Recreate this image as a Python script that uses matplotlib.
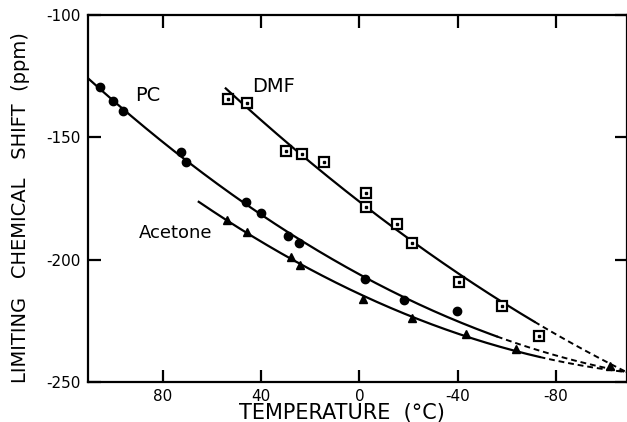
import numpy as np
import matplotlib
matplotlib.use("Agg")
from matplotlib import pyplot as plt

plt.rcParams['font.family'] = ['DejaVu Sans']

# values (temperature in degC, shift in ppm)
pc_temp = [105.6, 100.3, 96.3, 72.7, 70.6, 46.2, 40.1, 29.1, 24.7, -2.2, -18.0, -39.6]
pc_shift = [-129.4, -135.2, -139.2, -156.0, -160.1, -176.5, -181.0, -190.4, -193.2, -207.9, -216.5, -221.0]

acetone_temp = [54.0, 45.8, 27.9, 24.3, -1.4, -21.3, -43.3, -63.6, -101.9]
acetone_shift = [-183.8, -188.7, -198.9, -202.2, -216.1, -223.9, -230.4, -236.5, -243.5]

dmf_temp = [53.6, 45.8, 30.0, 23.4, 14.5, -2.6, -2.6, -15.2, -21.3, -40.4, -57.9, -73.0]
dmf_shift = [-134.3, -136.0, -155.6, -156.8, -160.1, -172.8, -178.5, -185.4, -193.2, -209.2, -219.0, -231.2]

# common point where the extrapolated curves meet
meet_temp = -109.0
meet_shift = -246.0

# where each fitted curve starts and where its solid part stops
pc_range = [110.5, -56.0]
acetone_range = [65.4, -73.4]
dmf_range = [54.4, -71.3]


def fitted(temp, shift, rng):
    t = np.append(temp, meet_temp)
    s = np.append(shift, meet_shift)
    w = np.ones(len(t))
    w[-1] = 10
    coef = np.polyfit(t, s, 2, w=w)
    t1 = np.linspace(rng[0], rng[1], 200)
    t2 = np.linspace(rng[1], meet_temp, 80)
    return t1, np.polyval(coef, t1), t2, np.polyval(coef, t2)


fig = plt.figure(figsize=(6.27, 4.22), dpi=100)
ax = fig.add_axes([88 / 627, 40 / 422, 539 / 627, 367 / 422])

for temp, shift, rng in [(pc_temp, pc_shift, pc_range),
                         (acetone_temp, acetone_shift, acetone_range),
                         (dmf_temp, dmf_shift, dmf_range)]:
    t1, s1, t2, s2 = fitted(temp, shift, rng)
    ax.plot(t1, s1, color='black', lw=1.6)
    ax.plot(t2, s2, color='black', lw=1.4, dashes=(3, 2))

ax.plot(pc_temp, pc_shift, 'o', color='black', ms=6)
ax.plot(acetone_temp, acetone_shift, '^', color='black', ms=6)
ax.plot(dmf_temp, dmf_shift, 's', mfc='white', mec='black', mew=1.6, ms=7)
ax.plot(dmf_temp, dmf_shift, 's', color='black', ms=1.5)

ax.text(86, -132.7, 'PC', fontsize=14, ha='center', va='center')
ax.text(34.8, -129.4, 'DMF', fontsize=14, ha='center', va='center')
ax.text(74.7, -189.1, 'Acetone', fontsize=13, ha='center', va='center')

ax.set_xlim(110.5, -109)
ax.set_ylim(-250, -100)
ax.set_xticks([80, 40, 0, -40, -80])
ax.set_yticks([-100, -150, -200, -250])
ax.set_xticklabels(['80', '40', '0', '-40', '-80'], fontsize=11)
ax.set_yticklabels(['-100', '-150', '-200', '-250'], fontsize=11)
ax.tick_params(direction='in', length=9, width=1.6, top=True, right=True, pad=5)
for sp in ax.spines.values():
    sp.set_linewidth(1.6)

fig.text(342 / 627, 3 / 422, 'TEMPERATURE  (°C)', fontsize=15,
         ha='center', va='baseline')
fig.text(21 / 627, 1 - 208 / 422, 'LIMITING   CHEMICAL   SHIFT  (ppm)', fontsize=14,
         rotation=90, ha='center', va='center')

fig.savefig('out.png', dpi=100)
